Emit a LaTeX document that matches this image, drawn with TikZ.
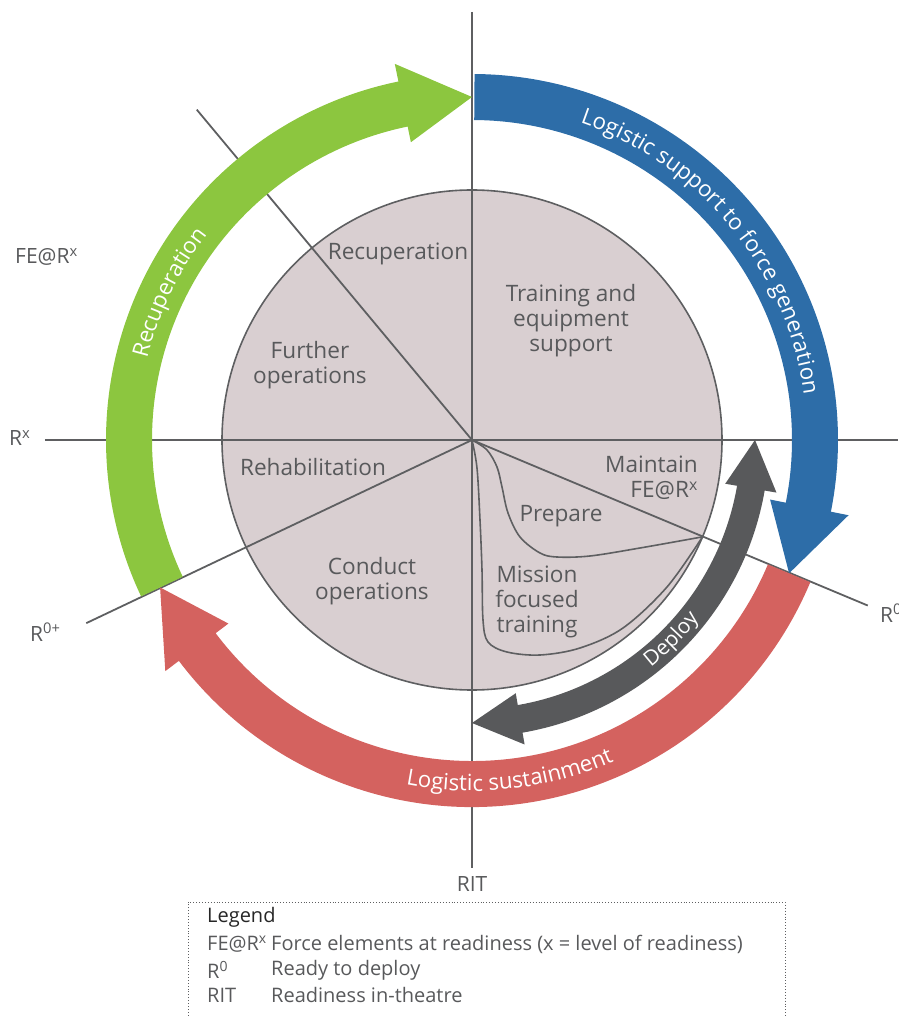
\documentclass[tikz,border=0pt]{standalone}
\usepackage{fontspec}
\setmainfont{Open Sans}
\usetikzlibrary{decorations.text}
\definecolor{cgreen}{HTML}{8CC63F}
\definecolor{cblue}{HTML}{2D6DA8}
\definecolor{cred}{HTML}{D4625F}
\definecolor{cdark}{HTML}{58595B}
\definecolor{cfill}{HTML}{D9CFD1}
\definecolor{cline}{HTML}{5E5F61}
\definecolor{ctext}{HTML}{58595B}
\newcommand\arcfnt{\fontsize{22.3}{26}\selectfont}
\newcommand\dplfnt{\fontsize{21}{25}\selectfont}
\begin{document}
\begin{tikzpicture}[x=1pt,y=1pt,
  axisline/.style={draw=cline, line width=1.8pt},
  thinline/.style={draw=cline, line width=1.6pt},
  lbl/.style={text=ctext, font=\fontsize{22.6}{25}\selectfont, align=center, inner sep=0pt},
  olbl/.style={text=ctext, font=\fontsize{21}{25}\selectfont, inner sep=0pt},
  leg/.style={text=ctext, font=\fontsize{20}{23}\selectfont, anchor=west, inner sep=0pt},
  arctext/.style={decorate, decoration={text along path, text align=center, text color=white, text={|\arcfnt|#1}}},
  dpltext/.style={decorate, decoration={text along path, text align=center, text color=white, text={|\dplfnt|#1}}}]
\useasboundingbox (-472,-576) rectangle (426,440);
% coordinates
\coordinate (O) at (0,0);
\coordinate (top) at (90:428pt);
\coordinate (bot) at (-90:428pt);
\coordinate (lft) at (180:427pt);
\coordinate (rgt) at (0:426pt);
\coordinate (ul) at (129.8:430pt);
\coordinate (ll) at (205.4:427pt);
\coordinate (lr) at (-22.7:429pt);
\coordinate (P) at (-22.8:250pt);
% inner disc
\fill[cfill] (O) circle[radius=250pt];
% curves
\draw[thinline] plot[smooth, tension=0.55] coordinates {(0,0) (15,-10) (25,-27) (30,-47) (36,-73) (48,-97) (68,-113) (85,-117) (118,-116) (168,-108) (P)};
\draw[thinline] plot[smooth, tension=0.55] coordinates {(0,0) (5,-28) (8,-80) (10,-130) (11,-180) (16,-202) (35,-212) (68,-215) (108,-208) (151,-188) (195,-147) (P)};
\draw[thinline] (O) circle[radius=250pt];
% axes
\draw[axisline] (top) -- (bot);
\draw[axisline] (lft) -- (rgt);
\draw[axisline] (O) -- (ul);
\draw[axisline] (O) -- (ll);
\draw[axisline] (O) -- (lr);
% arrows
\fill[cgreen] (205.3:366pt) arc[start angle=205.3, end angle=101.6, radius=366pt] -- (101.6:384pt) -- (90:343pt) -- (101.6:304pt) -- (101.6:320pt) arc[start angle=101.6, end angle=205.3, radius=320pt] -- cycle;
\fill[cblue] (89.6:366pt) arc[start angle=89.6, end angle=-11.3, radius=366pt] -- (-11.3:384pt) -- (-22.8:344pt) -- (-11.3:304pt) -- (-11.3:320pt) arc[start angle=-11.3, end angle=89.6, radius=320pt] -- cycle;
\fill[cred] (-22.8:367pt) arc[start angle=-22.8, end angle=-143.0, radius=367pt] -- (-143.0:384pt) -- (-154.7:345pt) -- (-143.0:305pt) -- (-143.0:321pt) arc[start angle=-143.0, end angle=-22.8, radius=321pt] -- cycle;
\fill[cdark] (0:283pt) -- (-9.8:309pt) -- (-9.8:297pt) arc[start angle=-9.8, end angle=-80.2, radius=297pt] -- (-80.2:309pt) -- (-90:283pt) -- (-80.2:257pt) -- (-80.2:269pt) arc[start angle=-80.2, end angle=-9.8, radius=269pt] -- (-9.8:257pt) -- cycle;
% arc texts
\path[arctext={Logistic support to force generation}] (79.5:335pt) arc[start angle=79.5, end angle=-0.5, radius=335pt];
\path[arctext={Recuperation}] (194:335pt) arc[start angle=194, end angle=114, radius=335pt];
\path[arctext={Logistic sustainment}] (236.5:351pt) arc[start angle=236.5, end angle=316.5, radius=351pt];
\path[dpltext={Deploy}] (-75:289pt) arc[start angle=-75, end angle=-15, radius=289pt];
% inner labels
\node[lbl] (recup) at (-74,186) {Recuperation};
\node[lbl] (train) at (99,119) {Training and\\equipment\\support};
\node[lbl] (further) at (-162,75) {Further\\operations};
\node[lbl] (rehab) at (-159,-27) {Rehabilitation};
\node[lbl] (conduct) at (-100,-141) {Conduct\\operations};
\node[lbl, align=right, anchor=east] (maint) at (226,-38) {Maintain\\FE@R\textsuperscript{x}};
\node[lbl] (prep) at (89,-76) {Prepare};
\node[lbl] (mission) at (65,-162) {Mission\\focused\\training};
% outer labels
\node[olbl, anchor=west] (fer) at (-457,183) {FE@R\textsuperscript{x}};
\node[olbl, anchor=west] (rx) at (-463,2) {R\textsuperscript{x}};
\node[olbl, anchor=west] (r0p) at (-442,-192) {R\textsuperscript{0+}};
\node[olbl, anchor=west] (r0) at (408,-173) {R\textsuperscript{0}};
\node[olbl] (rit) at (0,-444) {RIT};
% legend
\draw[cline, line width=0.9pt, dotted] (-284,-590) -- (-284,-462) -- (313,-462) -- (313,-590);
\node[leg, text=black!85] (lgt) at (-265,-477) {Legend};
\node[leg] (l1a) at (-265,-504) {FE@R\textsuperscript{x}};
\node[leg] (l1b) at (-201,-504) {Force elements at readiness (x = level of readiness)};
\node[leg] (l2a) at (-265,-530) {R\textsuperscript{0}};
\node[leg] (l2b) at (-201,-530) {Ready to deploy};
\node[leg] (l3a) at (-265,-555) {RIT};
\node[leg] (l3b) at (-201,-555) {Readiness in-theatre};
\end{tikzpicture}
\end{document}
